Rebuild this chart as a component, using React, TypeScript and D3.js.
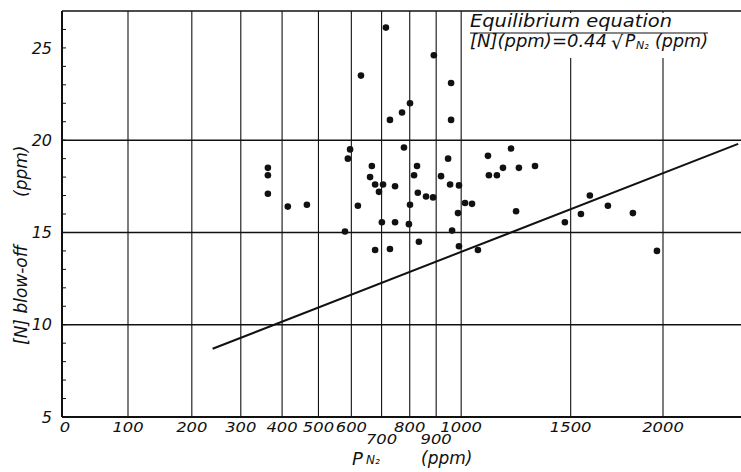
import React from "react";
import * as d3 from "d3";

// ---- data ----
const xTickValues = [0, 100, 200, 300, 400, 500, 600, 700, 800, 900, 1000, 1500, 2000];
const xTickLabels = ["0", "100", "200", "300", "400", "500", "600", "700", "800", "900", "1000", "1500", "2000"];
const xTickRow = [0, 0, 0, 0, 0, 0, 0, 1, 0, 1, 0, 0, 0];
const yTickValues = [5, 10, 15, 20, 25];
const yGridValues = [10, 15, 20];
const yMinorValues = d3.range(6, 27);

const pN2 = [
  715, 631, 891, 959, 801, 772, 729, 959, 779, 596, 589, 947, 1113, 364, 364, 667, 827, 661, 816, 919,
  1117, 1152, 678, 705, 747, 691, 955, 991, 364, 415, 467, 621, 830, 861, 888, 801, 1016, 1045, 987, 701,
  747, 797, 580, 963, 678, 729, 834, 991, 1070, 1215, 1179, 1251, 1326, 1238, 1598, 1693, 1552, 1471, 1829, 1965,
];
const nBlowOff = [
  26.1, 23.5, 24.6, 23.1, 22.0, 21.5, 21.1, 21.1, 19.6, 19.5, 19.0, 19.0, 19.15, 18.5, 18.1, 18.6, 18.6, 18.0, 18.1, 18.05,
  18.1, 18.1, 17.6, 17.6, 17.5, 17.2, 17.6, 17.55, 17.1, 16.4, 16.5, 16.45, 17.15, 16.95, 16.9, 16.5, 16.6, 16.55, 16.05, 15.55,
  15.55, 15.45, 15.05, 15.1, 14.05, 14.1, 14.5, 14.25, 14.05, 19.55, 18.5, 18.5, 18.6, 16.15, 17.0, 16.45, 16.0, 15.55, 16.05, 14.0,
];
const eqLineP = [240, 2460];
const eqLineN = [8.7, 19.8];

const W = 741;
const H = 472;
const left = 62;
const right = 741;
const FONT = "'DejaVu Sans', 'Liberation Sans', sans-serif";

export default function App() {
  const x = d3.scaleSqrt().domain([100, 2000]).range([128, 663]);
  const y = d3.scaleLinear().domain([5, 27]).range([417, 11]);
  const top = y(27);
  const bottom = y(5);
  const xPos = (v: number) => (v === 0 ? left : x(v));

  const line = d3
    .line<number>()
    .x((_, i) => x(eqLineP[i]))
    .y((_, i) => y(eqLineN[i]));

  return (
    <svg
      width={W}
      height={H}
      style={{ position: "absolute", left: 0, top: 0, background: "#fff" }}
      fontFamily={FONT}
    >
      <rect width={W} height={H} fill="#fff" />
      {/* vertical grid */}
      {xTickValues
        .filter((v) => v > 0)
        .map((v) => (
          <line key={"vg" + v} x1={x(v)} x2={x(v)} y1={top} y2={bottom} stroke="#111" strokeWidth={1.1} />
        ))}
      {/* horizontal grid */}
      {yGridValues.map((v) => (
        <line key={"hg" + v} x1={left} x2={right} y1={y(v)} y2={y(v)} stroke="#111" strokeWidth={1.4} />
      ))}
      {/* minor ticks on left axis */}
      {yMinorValues.map((v) => (
        <line key={"mt" + v} x1={left} x2={left + 4} y1={y(v)} y2={y(v)} stroke="#111" strokeWidth={1} />
      ))}
      {/* frame */}
      <line x1={left} x2={right} y1={top} y2={top} stroke="#111" strokeWidth={1.5} />
      <line x1={left} x2={right} y1={bottom} y2={bottom} stroke="#111" strokeWidth={2} />
      <line x1={left} x2={left} y1={top} y2={bottom} stroke="#111" strokeWidth={2} />

      {/* equation label */}
      <rect x={466} y={13} width={246} height={45} fill="#fff" />
      <text x={470} y={27} fontSize={17} fontStyle="italic" fill="#111" textLength={202} lengthAdjust="spacingAndGlyphs">
        Equilibrium equation
      </text>
      <line x1={470} x2={708} y1={33} y2={33} stroke="#111" strokeWidth={1.2} />
      <text x={470} y={47} fontSize={17} fontStyle="italic" fill="#111" textLength={137} lengthAdjust="spacingAndGlyphs">
        [N](ppm)=0.44
      </text>
      <text x={611} y={49} fontSize={19} fill="#111">
        √
      </text>
      <text x={625} y={47} fontSize={17} fontStyle="italic" fill="#111">
        P
      </text>
      <text x={636} y={49} fontSize={11} fontStyle="italic" fill="#111">
        N₂
      </text>
      <text x={655} y={47} fontSize={17} fontStyle="italic" fill="#111" textLength={53} lengthAdjust="spacingAndGlyphs">
        (ppm)
      </text>

      {/* fitted line */}
      <path d={line(eqLineP) || ""} fill="none" stroke="#111" strokeWidth={2} />

      {/* points */}
      {pN2.map((p, i) => (
        <circle key={"pt" + i} cx={x(p)} cy={y(nBlowOff[i])} r={3.3} fill="#111" />
      ))}

      {/* y tick labels */}
      {yTickValues.map((v) => (
        <text
          key={"yl" + v}
          x={52}
          y={y(v)}
          dy="0.36em"
          textAnchor="end"
          fontSize={16}
          fontStyle="italic"
          fill="#111"
        >
          {v}
        </text>
      ))}
      {/* x tick labels */}
      {xTickValues.map((v, i) => (
        <text
          key={"xl" + v}
          x={v === 0 ? xPos(v) + 3 : xPos(v)}
          y={xTickRow[i] === 0 ? 432 : 444}
          textAnchor="middle"
          fontSize={14.5}
          fontStyle="italic"
          fill="#111"
          textLength={xTickLabels[i].length * 10.4}
          lengthAdjust="spacingAndGlyphs"
        >
          {xTickLabels[i]}
        </text>
      ))}

      {/* axis titles */}
      <text transform="translate(27,345) rotate(-90)" fontSize={17} fontStyle="italic" fill="#111">
        [N] blow-off
      </text>
      <text transform="translate(27,197) rotate(-90)" fontSize={17} fontStyle="italic" fill="#111">
        (ppm)
      </text>
      <text x={352} y={465} fontSize={18} fontStyle="italic" fill="#111">
        P
      </text>
      <text x={366} y={464} fontSize={12} fontStyle="italic" fill="#111">
        N₂
      </text>
      <text x={421} y={464} fontSize={17} fontStyle="italic" fill="#111">
        (ppm)
      </text>
    </svg>
  );
}
